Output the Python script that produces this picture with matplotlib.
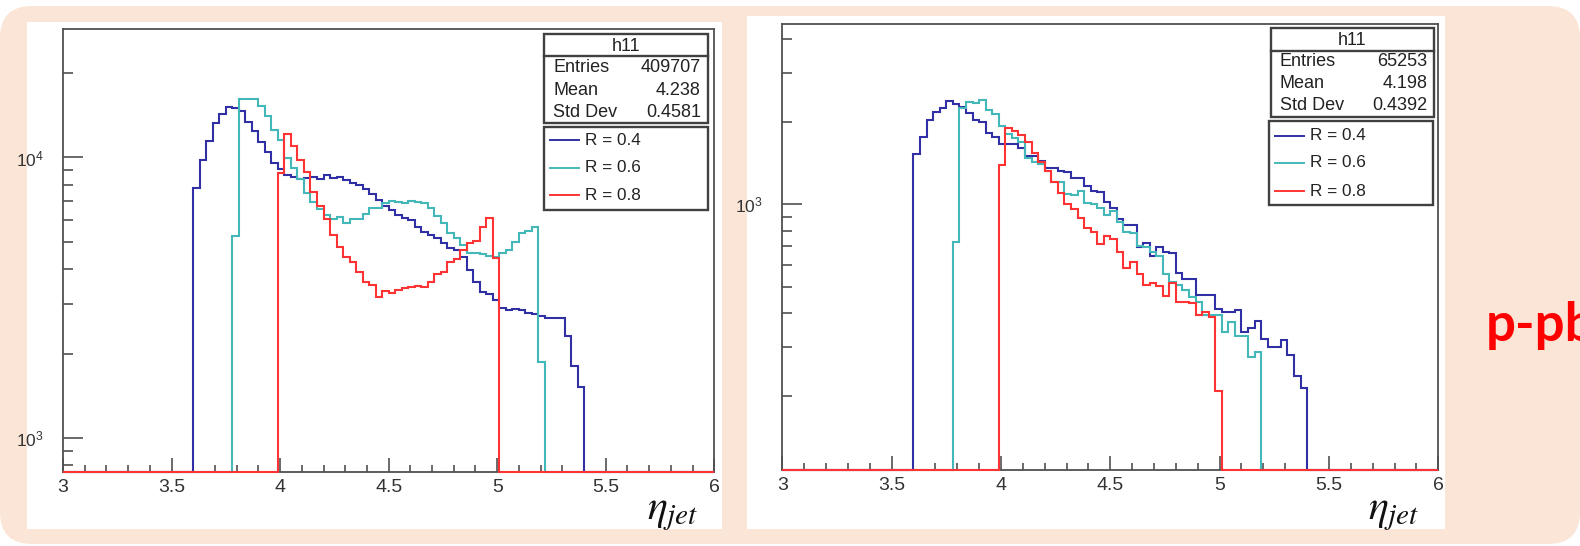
import numpy as np
import matplotlib.pyplot as plt
from matplotlib.patches import Rectangle, FancyBboxPatch
from matplotlib.ticker import MultipleLocator, LogLocator, NullFormatter, FormatStrFormatter

plt.rcParams['font.family'] = ['Liberation Sans', 'DejaVu Sans']
plt.rcParams['mathtext.fontset'] = 'custom'
plt.rcParams['mathtext.rm'] = 'Liberation Sans'
plt.rcParams['mathtext.it'] = 'Liberation Sans:italic'

# eta_jet binning: 100 bins of 0.03 between 3 and 6
edges = np.linspace(3, 6, 101)

labels = ["R = 0.4", "R = 0.6", "R = 0.8"]
eta_start = [3.60, 3.78, 3.99]

# left panel (p-p)
pp_r04 = [7760, 9790, 11470, 13225, 14280, 15160, 14960, 14670, 13410, 12420,
          11380, 10420, 9580, 9070, 8630, 8540, 8400, 8420, 8490, 8400,
          8630, 8470, 8490, 8290, 8130, 7970, 7720, 7410, 7050, 6710,
          6495, 6230, 6100, 5980, 5660, 5435, 5300, 5145, 4940, 4740,
          4677, 4427, 3970, 3606, 3320, 3260, 3100, 2900, 2860, 2880,
          2860, 2782, 2760, 2722, 2670, 2670, 2670, 2310, 1811, 1517]
pp_r06 = [5260, 16195, 16195, 16100, 15250, 14050, 12520, 11535, 9980, 9140,
          8350, 7447, 6955, 6530, 6230, 6016, 6150, 5820, 6060, 6060,
          6285, 6585, 6630, 6860, 7010, 6955, 6860, 7010, 6955, 6900,
          6585, 6183, 5853, 5393, 5145, 4873, 4575, 4550, 4520, 4464,
          4427, 4575, 4677, 5006, 5364, 5450, 5663, 1865]
pp_r08 = [8774, 12085, 10980, 9790, 8847, 7549, 6710, 6060, 5290, 4807,
          4427, 4250, 3916, 3606, 3510, 3171, 3350, 3296, 3369, 3416,
          3462, 3480, 3450, 3607, 3841, 3916, 4250, 4333, 4677, 4965,
          5047, 5660, 6100, 4400]
pp_stats = ["409707", "4.238", "0.4581"]

# right panel (p-pb)
ppb_r04 = [1518, 1756, 2026, 2161, 2247, 2383, 2311, 2266, 2142, 2026,
           1998, 1811, 1761, 1651, 1651, 1651, 1605, 1501, 1501, 1435,
           1350, 1350, 1320, 1310, 1248, 1248, 1166, 1115, 1105, 1014,
           964, 882, 838, 838, 699, 718, 648, 699, 670, 661,
           558, 531, 531, 466, 466, 466, 414, 402, 402, 410,
           340, 354, 374, 323, 302, 302, 319, 281, 235, 213]
ppb_r06 = [729, 2247, 2350, 2330, 2397, 2203, 2125, 1932, 1796, 1737,
           1679, 1476, 1419, 1396, 1320, 1206, 1200, 1085, 1080, 1115,
           1006, 1000, 970, 912, 943, 857, 793, 782, 705, 695,
           670, 648, 554, 521, 507, 485, 459, 438, 394, 394,
           394, 340, 370, 331, 331, 277, 289, 0]
ppb_r08 = [1388, 1889, 1852, 1786, 1679, 1531, 1427, 1320, 1206, 1094,
           997, 959, 887, 815, 793, 713, 766, 745, 670, 586,
           616, 554, 506, 516, 502, 463, 514, 440, 440, 434,
           394, 405, 388, 207]
ppb_stats = ["65253", "4.198", "0.4392"]

stat_names = ["Entries", "Mean", "Std Dev"]
hist_name = "h11"

colors = ["#3030a4", "#44b8b8", "#ff3333"]
frame = "#505050"
W, H = 1580, 546


def full_hist(counts, start):
    vals = np.zeros(len(edges) - 1)
    i0 = int(round((start - edges[0]) / 0.03))
    vals[i0:i0 + len(counts)] = counts
    return vals


def draw_panel(ax, series, ylim):
    for counts, start, c in zip(series, eta_start, colors):
        vals = np.maximum(full_hist(counts, start), ylim[0])
        ax.stairs(vals, edges, baseline=None, color=c, lw=1.5, clip_on=False, zorder=3)
    ax.set_xlim(3, 6)
    ax.set_yscale('log')
    ax.set_ylim(*ylim)
    ax.xaxis.set_major_locator(MultipleLocator(0.5))
    ax.xaxis.set_minor_locator(MultipleLocator(0.1))
    ax.xaxis.set_major_formatter(FormatStrFormatter('%g'))
    ax.yaxis.set_major_locator(LogLocator(base=10))
    ax.yaxis.set_minor_locator(LogLocator(base=10, subs=np.arange(2, 10)))
    ax.yaxis.set_minor_formatter(NullFormatter())
    ax.tick_params(which='both', direction='in', top=False, right=False,
                   color=frame, width=1.2, labelcolor='#333333')
    ax.tick_params(axis='x', which='major', length=10, labelsize=14, pad=5)
    ax.tick_params(axis='x', which='minor', length=5)
    ax.tick_params(axis='y', which='major', length=14.5, labelsize=12.5, pad=14)
    ax.tick_params(axis='y', which='minor', length=7.2)
    for s in ax.spines.values():
        s.set_color(frame)
        s.set_linewidth(1.3)


def draw_boxes(ov, x0, x1, sy0, sep, sy1, rows, lx0, lx1, ly0, ly1, lrows, stats):
    ov.add_patch(Rectangle((x0, sy0), x1 - x0, sy1 - sy0, fc='white', ec='#404040', lw=1.7))
    ov.plot([x0, x1], [sep, sep], color='#404040', lw=1.7)
    ov.text((x0 + x1) / 2, (sy0 + sep) / 2 + 1, hist_name, ha='center', va='center', fontsize=13, color='#222222')
    for name, val, y in zip(stat_names, stats, rows):
        ov.text(x0 + 9, y, name, ha='left', va='center', fontsize=13, color='#222222')
        ov.text(x1 - 7, y, val, ha='right', va='center', fontsize=13, color='#222222')
    ov.add_patch(Rectangle((lx0, ly0), lx1 - lx0, ly1 - ly0, fc='white', ec='#404040', lw=1.7))
    for lab, c, y in zip(labels, colors, lrows):
        ov.plot([lx0 + 6, lx0 + 35], [y, y], color=c, lw=1.4)
        ov.text(lx0 + 41, y, lab, ha='left', va='center', fontsize=12.3, color='#222222')


fig = plt.figure(figsize=(W / 100, H / 100), dpi=100)

bg = fig.add_axes([0, 0, 1, 1], zorder=0)
bg.set_xlim(0, W)
bg.set_ylim(H, 0)
bg.axis('off')
bg.add_patch(FancyBboxPatch((0, 6), W, 538, boxstyle="round,pad=0,rounding_size=32",
                            fc='#fbe5d6', ec='none'))
bg.add_patch(Rectangle((27, 21.6), 695.3, 507.4, fc='white', ec='none'))
bg.add_patch(Rectangle((747.3, 15.7), 697.7, 513.3, fc='white', ec='none'))
# the label runs off the right edge in the original slide as well
bg.text(1486, 326, "p-pb", color='#ff0000', fontsize=38, fontweight='bold',
        family=['Lato', 'DejaVu Sans'], ha='left', va='center')

ax1 = fig.add_axes([63 / W, 1 - 472.1 / H, (714.3 - 63) / W, (472.1 - 28.6) / H], zorder=1)
draw_panel(ax1, [pp_r04, pp_r06, pp_r08], (756, 28800))

ax2 = fig.add_axes([782.3 / W, 1 - 470 / H, (1438.3 - 782.3) / W, (470 - 24.4) / H], zorder=1)
draw_panel(ax2, [ppb_r04, ppb_r06, ppb_r08], (107, 4525))

ov = fig.add_axes([0, 0, 1, 1], zorder=3)
ov.set_xlim(0, W)
ov.set_ylim(H, 0)
ov.axis('off')
ov.patch.set_alpha(0)

draw_boxes(ov, 544.3, 708, 34.1, 56.4, 122.9, [67.9, 90.5, 112.1],
           544.3, 708, 126.7, 209.6, [140.3, 167.5, 195.3], pp_stats)
draw_boxes(ov, 1270.7, 1434.3, 27.9, 50.5, 117.3, [61.6, 83.6, 105.2],
           1269, 1433.3, 121.2, 205.4, [135.8, 162.6, 191.2], ppb_stats)

ov.text(698, 513, r'$\eta_{jet}$', ha='right', va='center', fontsize=30, math_fontfamily='stix', color='#111111')
ov.text(1419, 513, r'$\eta_{jet}$', ha='right', va='center', fontsize=30, math_fontfamily='stix', color='#111111')

fig.savefig('out.png', dpi=100)
